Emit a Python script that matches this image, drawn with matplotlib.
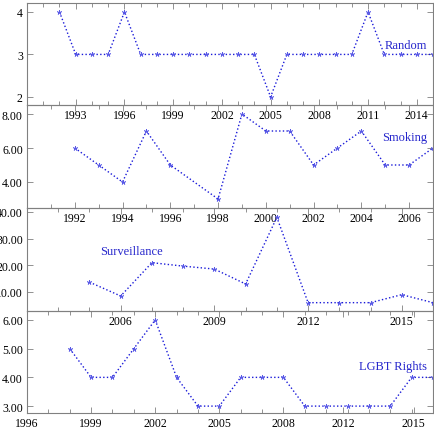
import numpy as np
import matplotlib.pyplot as plt
from matplotlib.ticker import FixedLocator, FixedFormatter, MultipleLocator

plt.rcParams['font.family'] = ['Liberation Serif', 'DejaVu Serif']
plt.rcParams['font.size'] = 8.5

# Random
random_years = list(range(1992, 2016))
random_vals = [4, 3, 3, 3, 4, 3, 3, 3, 3, 3, 3, 3, 3, 2, 3, 3, 3, 3, 3, 4, 3, 3, 3, 3]

# Smoking (no point for 1997)
smoking_years = [1992, 1993, 1994, 1995, 1996, 1998, 1999, 2000, 2001, 2002, 2003, 2004, 2005, 2006, 2007]
smoking_vals = [6, 5, 4, 7, 5, 3, 8, 7, 7, 5, 6, 7, 5, 5, 6]

# Surveillance
surv_years = list(range(2005, 2017))
surv_vals = [13.7, 8.5, 21, 19.7, 18.6, 13, 38, 6, 6, 6, 9, 6]

# LGBT Rights
lgbt_years = list(range(1998, 2016))
lgbt_vals = [5, 4, 4, 5, 6, 4, 3, 3, 4, 4, 4, 3, 3, 3, 3, 3, 4, 4]

panels = [
    dict(name='Random', x=random_years, y=random_vals, xlim=(1990, 2015), ylim=(1.81, 4.21),
         xt=[1993, 1996, 1999, 2002, 2005, 2008, 2011, 2014],
         xl=['1993', '1996', '1999', '2002', '2005', '2008', '2011', '2014'],
         yt=[2, 3, 4], yfmt='%d', lab=(0.985, 0.588, 'right')),
    dict(name='Smoking', x=smoking_years, y=smoking_vals, xlim=(1990, 2007), ylim=(2.47, 8.53),
         xt=[1992, 1994, 1996, 1998, 2000, 2002, 2004, 2006],
         xl=['1992', '1994', '1996', '1998', '2000', '2002', '2004', '2006'],
         yt=[4, 6, 8], yfmt='%.2f', lab=(0.985, 0.689, 'right')),
    dict(name='Surveillance', x=surv_years, y=surv_vals, xlim=(2003, 2016), ylim=(2.875, 41.5),
         xt=[2006, 2009, 2012, 2015], xl=['2006', '2009', '2012', '2015'],
         yt=[10, 20, 30, 40], yfmt='%.2f', lab=(0.257, 0.583, 'center')),
    dict(name='LGBT Rights', x=lgbt_years, y=lgbt_vals, xlim=(1996, 2015), ylim=(2.76, 6.31),
         xt=[1996, 1999, 2002, 2005, 2008, 2010.8, 2014.1],
         xl=['1996', '1999', '2002', '2005', '2008', '2012', '2015'],
         yt=[3, 4, 5, 6], yfmt='%.2f', lab=(0.985, 0.461, 'right')),
]

fig = plt.figure(figsize=(4.35, 4.35), dpi=100)

# axes boxes in pixels (top, bottom) of a 435 px figure
boxes = [(4, 106), (106, 209), (209, 312), (312, 414)]
spine_col = '#808080'
line_col = (0.1, 0.1, 0.85)

for p, (top, bot) in zip(panels, boxes):
    ax = fig.add_axes([27 / 435, 1 - bot / 435, 406 / 435, (bot - top) / 435])
    ax.patch.set_visible(False)
    ax.plot(p['x'], p['y'], linestyle=':', color=line_col, linewidth=1.0,
            marker=(5, 2, 0), markersize=3.6, markeredgewidth=0.45,
            markeredgecolor=(0.35, 0.35, 0.9), clip_on=False)
    ax.set_xlim(*p['xlim'])
    ax.set_ylim(*p['ylim'])
    ax.xaxis.set_major_locator(FixedLocator(p['xt']))
    ax.xaxis.set_major_formatter(FixedFormatter(p['xl']))
    ax.xaxis.set_minor_locator(MultipleLocator(1))
    ax.set_yticks(p['yt'])
    ax.set_yticklabels([p['yfmt'] % v for v in p['yt']])
    ax.tick_params(which='both', direction='in', top=True, right=True, color=spine_col,
                   labelsize=8.5, pad=3)
    ax.tick_params(which='major', length=4, width=0.6)
    ax.tick_params(which='minor', length=2.8, width=0.6)
    for s in ax.spines.values():
        s.set_color(spine_col)
        s.set_linewidth(0.8)
    tx, ty, ha = p['lab']
    ax.text(tx, ty, p['name'], transform=ax.transAxes, ha=ha, va='center',
            color=(0.15, 0.15, 0.8), fontsize=9)

fig.savefig('out.png', dpi=100)
